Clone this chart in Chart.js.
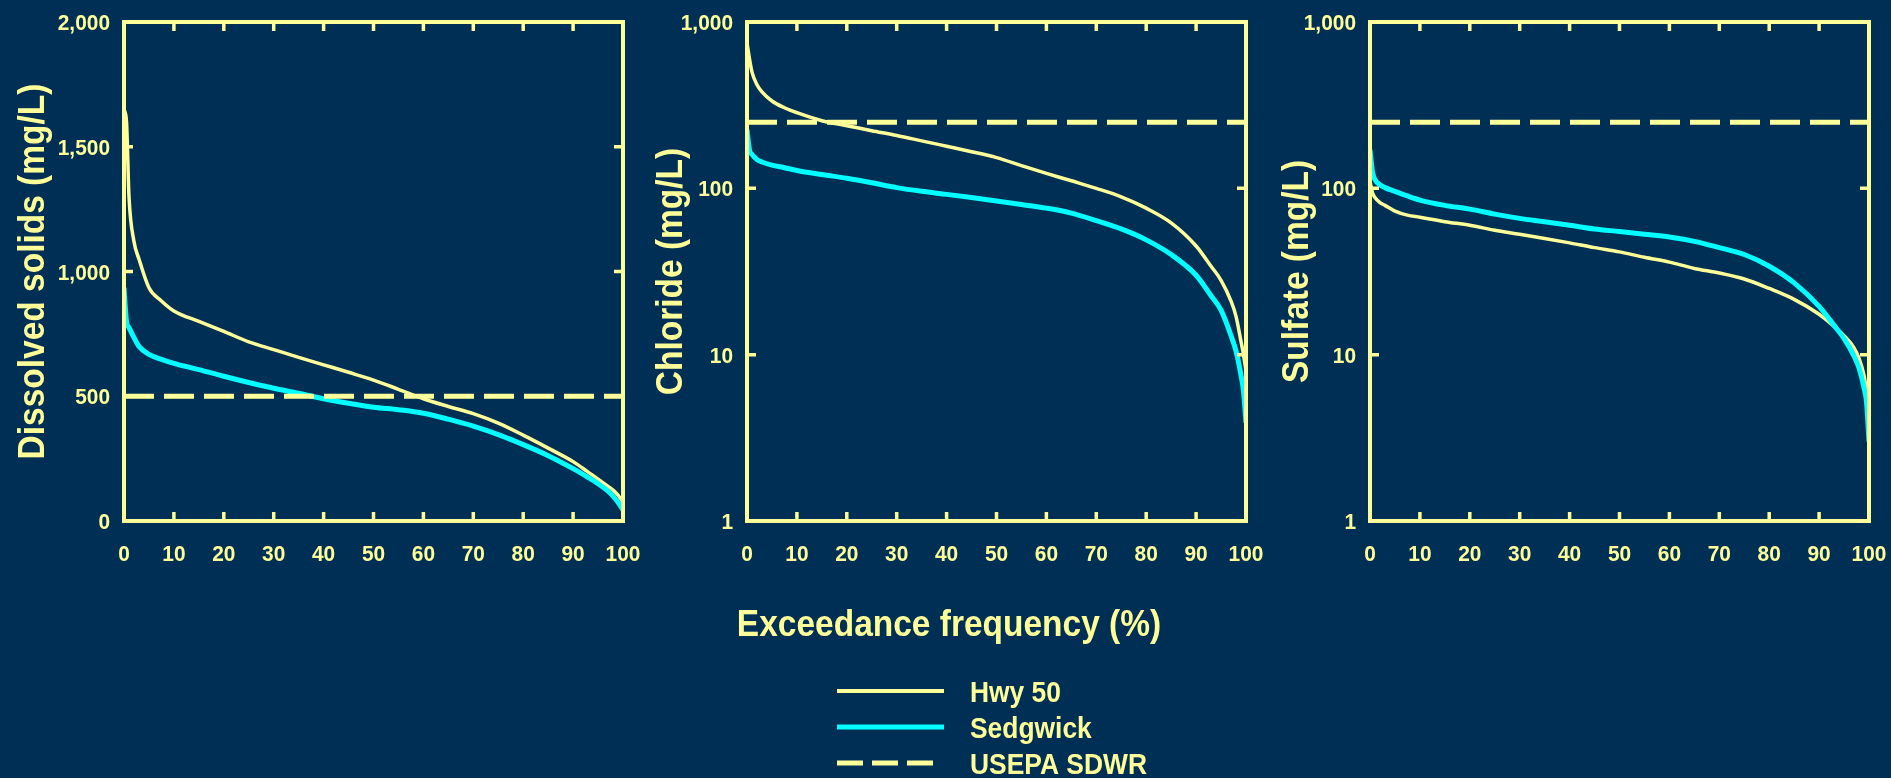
<!DOCTYPE html>
<html>
<head>
<meta charset="utf-8">
<title>Exceedance frequency — dissolved solids, chloride, sulfate</title>
<script src="https://cdn.jsdelivr.net/npm/chart.js@4.4.1/dist/chart.umd.min.js"></script>
<style>
  html, body { margin: 0; padding: 0; background: #002F56; width: 1891px; height: 778px; overflow: hidden; }
  canvas { position: absolute; left: 0; top: 0; }
</style>
</head>
<body>
<canvas id="solids" width="1891" height="778"></canvas>
<canvas id="chloride" width="1891" height="778"></canvas>
<canvas id="sulfate" width="1891" height="778"></canvas>
<script>
// Exceedance frequency (%) shared by every duration curve
const exceedance = [0, 0.5, 1, 2, 3, 5, 7.5, 10, 15, 20, 25, 30, 35, 40, 45, 50, 55, 60, 65, 70, 75, 80, 85, 90, 93, 95, 97, 98, 99, 99.5, 100];

// Dissolved solids (mg/L)
const solidsHwy50    = [1650, 1600, 1300, 1120, 1050, 935, 882, 842, 800, 760, 718, 687, 656, 626, 596, 565, 528, 490, 459, 430, 392, 344, 292, 238, 196, 168, 139, 124, 104, 90, 75];
const solidsSedgwick = [935, 800, 775, 735, 700, 668, 648, 632, 607, 580, 555, 532, 512, 490, 472, 456, 446, 432, 408, 380, 346, 306, 262, 210, 175, 150, 120, 100, 75, 60, 45];

// Chloride (mg/L)
const chlorideHwy50    = [750, 600, 500, 420, 380, 335, 305, 285, 255, 238, 222, 208, 193, 179, 166, 153, 137, 123, 111, 100, 89, 76, 62, 45, 34, 28, 21, 17, 12, 10, 8];
const chlorideSedgwick = [225, 170, 160, 149, 144, 138, 133, 128, 121, 115, 108, 101, 96, 92, 88, 84, 80, 76, 71, 64, 57, 49, 40, 30, 22.6, 18.5, 13, 10.5, 7.5, 6, 3.9];

// Sulfate (mg/L)
const sulfateHwy50    = [110, 94, 88, 82, 79, 73, 69, 67, 63, 60, 56, 53, 50, 47, 44, 41.5, 38.5, 36, 33, 31, 28.5, 25, 21.5, 17.5, 14.8, 13, 11, 9.5, 7.5, 6, 4.5];
const sulfateSedgwick = [170, 125, 113, 105, 101, 96, 90, 85, 79, 75, 70, 66, 63, 60, 57, 55, 53, 51, 48, 44, 40, 34, 27, 19.5, 15, 12.5, 9.8, 8.3, 6.3, 5.2, 3.0];

// USEPA secondary drinking-water regulation levels (mg/L)
const sdwrSolids = 500;
const sdwrChloride = 250;
const sdwrSulfate = 250;

const seriesNames = ['Hwy 50', 'Sedgwick', 'USEPA SDWR'];

// Tick values and their printed labels
const xTickValues = [0, 10, 20, 30, 40, 50, 60, 70, 80, 90, 100];
const xTickLabels = ['0', '10', '20', '30', '40', '50', '60', '70', '80', '90', '100'];
const solidsTickValues = [0, 500, 1000, 1500, 2000];
const solidsTickLabels = ['0', '500', '1,000', '1,500', '2,000'];
const logTickValues = [1, 10, 100, 1000];
const logTickLabels = ['1', '10', '100', '1,000'];

const INK = '#FFFF99';
const CYAN = '#00FFFF';
const FONT = '"Liberation Sans", Arial, Helvetica, sans-serif';

function pts(values) {
  return exceedance.map((x, i) => ({ x: x, y: values[i] }));
}

// Bold text drawn slightly condensed
function drawText(ctx, text, x, y, size, sx, align, baseline, rot) {
  ctx.save();
  ctx.translate(x, y);
  if (rot) ctx.rotate(rot);
  ctx.scale(sx, 1);
  ctx.font = 'bold ' + size + 'px ' + FONT;
  ctx.fillStyle = INK;
  ctx.textAlign = align;
  ctx.textBaseline = baseline;
  ctx.fillText(text, 0, 0);
  ctx.restore();
}

// Boxed frame, inward tick marks, tick labels and the y-axis title
const panelFrame = {
  id: 'panelFrame',
  afterDatasetsDraw(chart, args, opts) {
    const ctx = chart.ctx;
    const a = chart.chartArea;
    const xs = chart.scales.x, ys = chart.scales.y;
    ctx.save();
    ctx.strokeStyle = INK;
    ctx.lineWidth = 4;
    ctx.strokeRect(a.left, a.top, a.right - a.left, a.bottom - a.top);
    ctx.lineWidth = 3.5;
    ctx.beginPath();
    xTickValues.forEach(v => {
      if (v <= xs.min || v >= xs.max) return;
      const px = xs.getPixelForValue(v);
      ctx.moveTo(px, a.bottom); ctx.lineTo(px, a.bottom - 9);
      ctx.moveTo(px, a.top); ctx.lineTo(px, a.top + 9);
    });
    opts.yTicks.forEach(v => {
      if (v <= ys.min || v >= ys.max) return;
      const py = ys.getPixelForValue(v);
      ctx.moveTo(a.left, py); ctx.lineTo(a.left + 9, py);
      ctx.moveTo(a.right, py); ctx.lineTo(a.right - 9, py);
    });
    ctx.stroke();
    ctx.restore();

    xTickValues.forEach((v, i) => {
      drawText(ctx, xTickLabels[i], xs.getPixelForValue(v), 561, 22, 0.95, 'center', 'alphabetic');
    });
    opts.yTicks.forEach((v, i) => {
      drawText(ctx, opts.yLabels[i], a.left - 14, ys.getPixelForValue(v) + 8, 22, 0.95, 'right', 'alphabetic');
    });
    drawText(ctx, opts.title, opts.titleBaseX, (a.top + a.bottom) / 2, 36, 0.93, 'center', 'alphabetic', -Math.PI / 2);

    if (opts.shared) {
      drawText(ctx, 'Exceedance frequency (%)', 949, 636, 36, 0.93, 'center', 'alphabetic');
      // legend built from the panel's datasets
      const rows = [691, 727, 763];
      chart.data.datasets.forEach((ds, i) => {
        const y = rows[i];
        ctx.save();
        ctx.strokeStyle = ds.borderColor;
        ctx.lineWidth = ds.legendWidth;
        ctx.beginPath();
        if (ds.borderDash && ds.borderDash.length) {
          ctx.setLineDash([26, 9]);
          ctx.moveTo(837, y); ctx.lineTo(933, y);
        } else {
          ctx.moveTo(837, y); ctx.lineTo(944, y);
        }
        ctx.stroke();
        ctx.restore();
        drawText(ctx, ds.label, 970, y + 10.5, 30, 0.88, 'left', 'alphabetic');
      });
    }
  }
};

function makePanel(id, hwy, sed, limit, yCfg, frameOpts, left) {
  const right = left + 499;
  new Chart(document.getElementById(id), {
    type: 'line',
    data: {
      datasets: [
        { label: seriesNames[0], data: pts(hwy), borderColor: INK, borderWidth: 3.5, legendWidth: 4,
          pointRadius: 0, cubicInterpolationMode: 'monotone', fill: false, order: 3 },
        { label: seriesNames[1], data: pts(sed), borderColor: CYAN, borderWidth: 5, legendWidth: 5,
          pointRadius: 0, cubicInterpolationMode: 'monotone', fill: false, order: 2 },
        { label: seriesNames[2], data: [{ x: 0, y: limit }, { x: 100, y: limit }], borderColor: INK,
          borderWidth: 5, legendWidth: 5, borderDash: [30, 10], pointRadius: 0, fill: false, order: 1 }
      ]
    },
    options: {
      responsive: false,
      animation: false,
      events: [],
      layout: { padding: { left: left, top: 22, right: 1891 - right, bottom: 778 - 521 } },
      scales: {
        x: { type: 'linear', min: 0, max: 100, display: false },
        y: Object.assign({ display: false }, yCfg)
      },
      plugins: {
        legend: { display: false },
        tooltip: { enabled: false },
        panelFrame: frameOpts
      }
    },
    plugins: [panelFrame]
  });
}

makePanel('solids', solidsHwy50, solidsSedgwick, sdwrSolids,
  { type: 'linear', min: 0, max: 2000 },
  { yTicks: solidsTickValues, yLabels: solidsTickLabels, title: 'Dissolved solids (mg/L)', titleBaseX: 44, shared: false },
  124);

makePanel('chloride', chlorideHwy50, chlorideSedgwick, sdwrChloride,
  { type: 'logarithmic', min: 1, max: 1000 },
  { yTicks: logTickValues, yLabels: logTickLabels, title: 'Chloride (mg/L)', titleBaseX: 682, shared: true },
  747);

makePanel('sulfate', sulfateHwy50, sulfateSedgwick, sdwrSulfate,
  { type: 'logarithmic', min: 1, max: 1000 },
  { yTicks: logTickValues, yLabels: logTickLabels, title: 'Sulfate (mg/L)', titleBaseX: 1308, shared: false },
  1370);
</script>
</body>
</html>
